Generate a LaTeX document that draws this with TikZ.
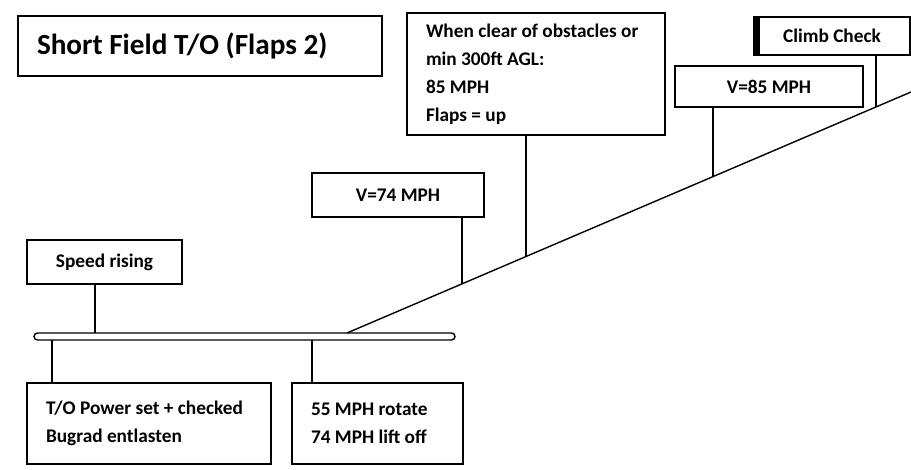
\documentclass[tikz,border=0pt]{standalone}
\usepackage{fontspec}
\setmainfont{Carlito}
\begin{document}
\begin{tikzpicture}[x=1pt,y=-1pt,
        box/.style={draw,line width=1.2pt,inner sep=0pt,font=\bfseries\fontsize{19.3}{28}\selectfont},
        txtbox/.style={box,inner xsep=19pt,align=left,
            execute at begin node={\spaceskip=0pt\xspaceskip=0pt}},
        line/.style={line width=1.4pt}]
\useasboundingbox (0,0) rectangle (911,470);

% boxes
\node[txtbox,minimum width=364,minimum height=60,text width=326,
    font=\bfseries\fontsize{29.2}{30}\selectfont] (title) at (200,46) {Short Field T/O (Flaps 2)};
\node[txtbox,minimum width=258,minimum height=122,text width=220] (clear) at (536,74)
    {When clear of obstacles or\\min 300ft AGL:\\85 MPH\\Flaps = up};
\node[box,minimum width=156,minimum height=38] (climb) at (832,36) {Climb Check};
\fill (754,17) rectangle (760,55);
\node[box,minimum width=188,minimum height=41] (v85) at (769,86.5) {V=85 MPH};
\node[box,minimum width=172,minimum height=44] (v74) at (398,195) {V=74 MPH};
\node[box,minimum width=155,minimum height=44] (speed) at (104.5,262) {Speed rising};
\node[txtbox,minimum width=244,minimum height=81,text width=206] (power) at (149,423.5)
    {T/O Power set + checked\\Bugrad entlasten};
\node[txtbox,minimum width=171,minimum height=81,text width=133] (rotate) at (377.5,423.5)
    {55 MPH rotate\\74 MPH lift off};

% runway and climb path
\node[draw,line width=1.4pt,rounded corners=3.5pt,minimum width=421,minimum height=7,
    inner sep=0pt] (runway) at (244.5,336.5) {};
\coordinate (lift) at (347,333);
\coordinate (end) at (911,92);
\draw[line] (lift) -- (end);

\coordinate (p74) at (462,284);
\coordinate (p300) at (526,256.5);
\coordinate (p85) at (713,177);
\coordinate (pcc) at (876,107);

% connectors
\draw[line] (p74 |- v74.south) -- (p74);
\draw[line] (p300 |- clear.south) -- (p300);
\draw[line] (p85 |- v85.south) -- (p85);
\draw[line] (pcc |- climb.south) -- (pcc);
\draw[line] (95,284) -- (95,333);
\draw[line] (52,340) -- (52,383);
\draw[line] (312,340) -- (312,383);

\end{tikzpicture}
\end{document}
